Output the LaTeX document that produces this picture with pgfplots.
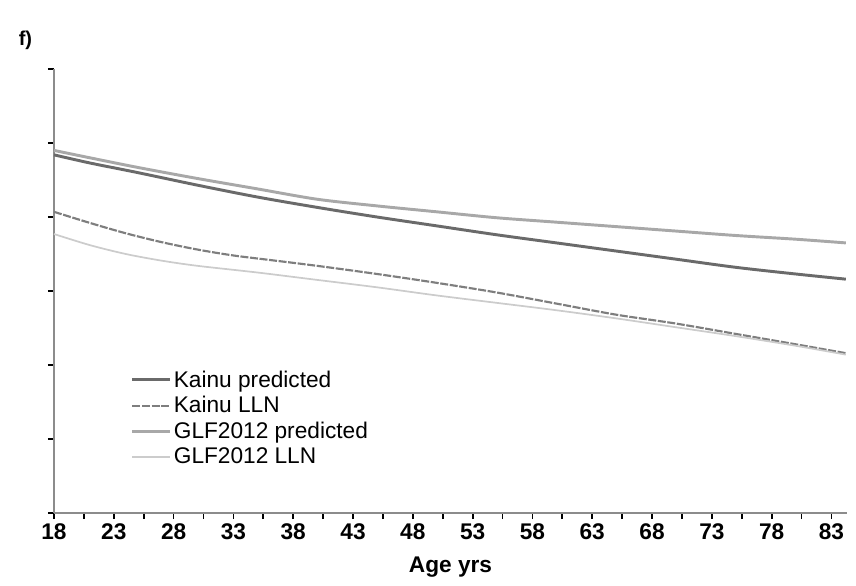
\documentclass[border=0pt]{standalone}
\usepackage{pgfplots}
\pgfplotsset{compat=1.18}
\usepackage{fontspec}
\setmainfont{Liberation Sans}
\definecolor{kpred}{HTML}{6A6A6A}
\definecolor{klln}{HTML}{7E7E7E}
\definecolor{gpred}{HTML}{A8A8A8}
\definecolor{glln}{HTML}{CCCCCC}
\definecolor{axgray}{HTML}{8C8C8C}
\begin{document}
\begin{tikzpicture}
\useasboundingbox (-40.5pt,-54pt) rectangle (601.5pt,384.75pt);
\begin{axis}[
  scale only axis,
  width=594.75pt, height=333pt,
  xmin=18, xmax=84.3, ymin=0, ymax=6,
  axis x line=bottom, axis y line=left,
  axis line style={-, draw=axgray, line width=1.5pt},
  xtick={18,23,...,83},
  minor xtick={20.5,25.5,...,80.5},
  ytick={0,1,...,6}, yticklabels={},
  tick align=outside,
  major tick length=4.5pt, minor tick length=4.5pt,
  every tick/.style={black, line width=1.3pt},
  /pgf/number format/assume math mode=true,
  tick label style={font=\fontsize{17}{20}\selectfont\bfseries},
  xlabel={Age yrs},
  xlabel style={font=\fontsize{17}{20}\selectfont\bfseries, yshift=-6pt},
  legend style={draw=none, fill=none, at={(0.095,0.33)}, anchor=north west,
    font=\fontsize{17}{20}\selectfont, row sep=1.5pt, inner sep=1pt},
  legend cell align=left,
  legend image code/.code={\draw[#1] (0pt,0pt) -- (28pt,0pt);},
  clip=false,
]
\addplot[kpred, line width=2.2pt, smooth] coordinates {
(18,4.84) (21,4.73) (25,4.60) (30,4.43) (35,4.27) (40,4.13) (45,4.00) (50,3.88) (55,3.76) (60,3.65) (65,3.54) (70,3.43) (75,3.32) (80,3.23) (84.2,3.16)};
\addlegendentry{Kainu predicted}
\addplot[klln, line width=1.6pt, dash pattern=on 6pt off 1.2pt, smooth] coordinates {
(18,4.07) (21,3.92) (24,3.78) (27,3.66) (30,3.56) (33,3.48) (36,3.42) (40,3.34) (45,3.23) (50,3.11) (55,2.98) (60,2.83) (65,2.68) (70,2.56) (75,2.42) (80,2.28) (84.2,2.16)};
\addlegendentry{Kainu LLN}
\addplot[gpred, line width=2.2pt, smooth] coordinates {
(18,4.90) (21,4.80) (25,4.67) (30,4.52) (35,4.38) (40,4.24) (45,4.15) (50,4.07) (55,3.99) (60,3.93) (65,3.87) (70,3.81) (75,3.75) (80,3.70) (84.2,3.65)};
\addlegendentry{GLF2012 predicted}
\addplot[glln, line width=1.3pt, smooth] coordinates {
(18,3.77) (21,3.62) (24,3.50) (27,3.41) (30,3.34) (35,3.25) (40,3.15) (45,3.05) (50,2.94) (55,2.84) (60,2.74) (65,2.63) (70,2.51) (75,2.39) (80,2.26) (84.2,2.14)};
\addlegendentry{GLF2012 LLN}
\node[font=\fontsize{15}{17}\selectfont\bfseries] at (rel axis cs:-0.036,1.065) {f)};
\end{axis}
\end{tikzpicture}
\end{document}
